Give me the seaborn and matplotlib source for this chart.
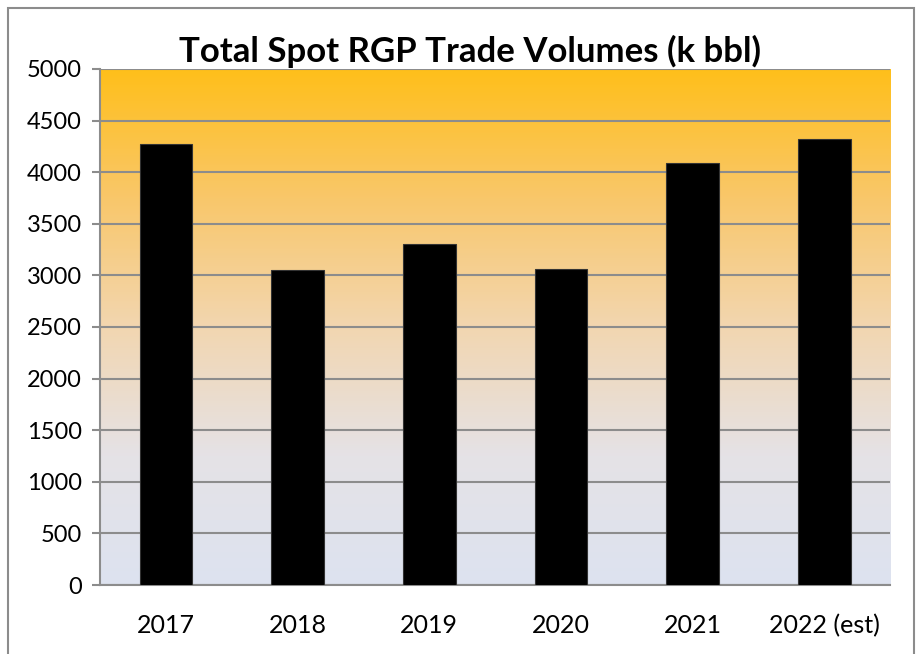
import numpy as np
import pandas as pd
import matplotlib
matplotlib.use("Agg")
import matplotlib.pyplot as plt
from matplotlib.colors import LinearSegmentedColormap
from matplotlib.patches import Rectangle
import seaborn as sns

# === Data ===
years = ["2017", "2018", "2019", "2020", "2021", "2022 (est)"]
volumes = [4270, 3050, 3300, 3060, 4090, 4320]
y_ticks = list(range(0, 5001, 500))

df = pd.DataFrame({"Year": years, "Volume": volumes})

sns.set_theme(style="white")
plt.rcParams["font.family"] = ["Lato", "DejaVu Sans"]

fig = plt.figure(figsize=(9.2, 6.54), dpi=100)
ax = fig.add_axes([0.1087, 0.1055, 0.8587, 0.789])

# gradient background (gold at top fading to pale blue-grey)
grad = LinearSegmentedColormap.from_list(
    "bg", [(0.0, "#dde3f0"), (0.25, "#e5e2e6"), (0.5, "#f2d6b0"),
           (0.75, "#f9c76a"), (1.0, "#ffbf1a")])
ax.imshow(np.linspace(0, 1, 256).reshape(-1, 1), cmap=grad, aspect="auto",
          extent=(-0.5, 5.5, 0, 5000), origin="lower", zorder=0)

sns.barplot(data=df, x="Year", y="Volume", color="black", width=0.4,
            edgecolor="#333333", linewidth=0.8, saturation=1, ax=ax, zorder=3)

ax.set_xlim(-0.5, 5.5)
ax.set_ylim(0, 5000)
ax.set_yticks(y_ticks)
ax.set_xlabel("")
ax.set_ylabel("")
ax.yaxis.grid(True, color="#8c8c8c", linewidth=1.5, zorder=1)
ax.set_axisbelow(True)
for s in ["top", "right"]:
    ax.spines[s].set_visible(False)
for s in ["left", "bottom"]:
    ax.spines[s].set_color("#8c8c8c")
    ax.spines[s].set_linewidth(1.5)
ax.tick_params(axis="y", left=True, length=6, width=1.5, color="#8c8c8c",
               labelsize=17, labelcolor="black", pad=7)
ax.tick_params(axis="x", bottom=False, labelsize=18, labelcolor="black", pad=15)

fig.text(0.511, 0.922, "Total Spot RGP Trade Volumes (k bbl)", ha="center",
         va="center", fontsize=25, fontweight="bold", color="black")

# outer chart frame
fig.patches.append(Rectangle((0.009, -0.01), 0.985, 0.998, transform=fig.transFigure,
                             fill=False, edgecolor="#8c8c8c", linewidth=1.5))

fig.savefig("out.png", dpi=100)
